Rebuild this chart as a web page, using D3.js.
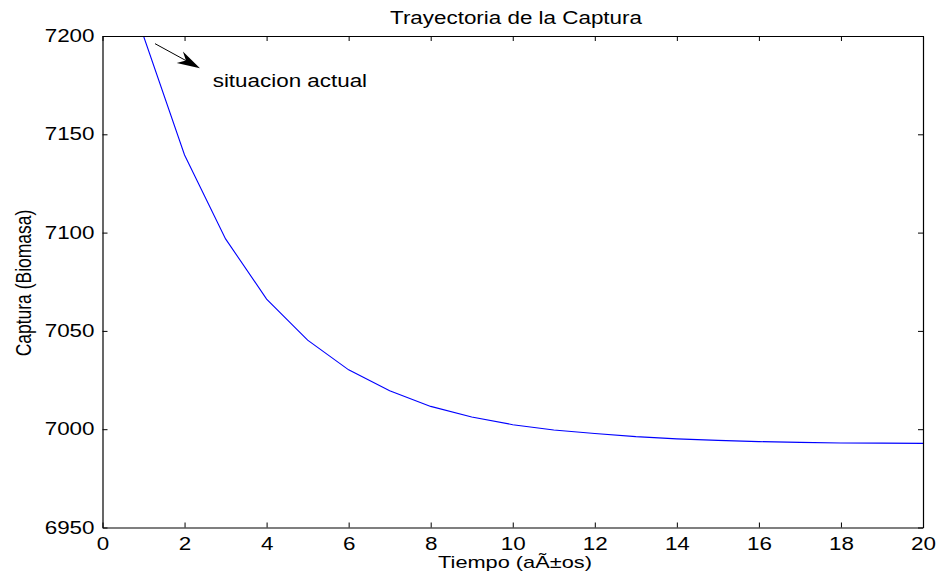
<!DOCTYPE html>
<html>
<head>
<meta charset="utf-8">
<script src="https://d3js.org/d3.v7.min.js"></script>
<style>
body { margin: 0; background: #fff; }
svg { display: block; }
text { font-family: "Liberation Sans", Arial, Helvetica, sans-serif; fill: #000; }
</style>
</head>
<body>
<script>
// chart data
var years = [1, 2, 3, 4, 5, 6, 7, 8, 9, 10, 11, 12, 13, 14, 15, 16, 17, 18, 19, 20];
var catch_ = [7200, 7139.5, 7096.8, 7066.2, 7045.3, 7030.2, 7019.5, 7011.6, 7006.2, 7002.3,
              6999.6, 6997.8, 6996.2, 6995.1, 6994.3, 6993.7, 6993.3, 6993.0, 6992.9, 6992.8];
var xTicks = [0, 2, 4, 6, 8, 10, 12, 14, 16, 18, 20];
var yTicks = [6950, 7000, 7050, 7100, 7150, 7200];

var titleText = "Trayectoria de la Captura";
var xLabel = "Tiempo (aÃ±os)";
var yLabel = "Captura (Biomasa)";
var noteText = "situacion actual";
// arrow annotation, in data units: [tail, tip], then text anchor
var arrowPts = [[1.28, 7196.1], [2.376, 7183.6]];
var notePos = [2.686, 7174.2];

var W = 938, H = 577;
var box = {left: 102.5, right: 923, top: 36, bottom: 527.5};
var FS = 17.5, STRETCH = 1.28;

var svg = d3.select("body").append("svg").attr("width", W).attr("height", H);

var x = d3.scaleLinear().domain([0, 20]).range([box.left, box.right]);
var y = d3.scaleLinear().domain([6950, 7200]).range([box.bottom, box.top]);

// fonts in the original are wider than tall, so squash them sideways
function stretch(sel){
	sel.each(function(){
		var w = this.getComputedTextLength();
		d3.select(this).attr("textLength", w*STRETCH).attr("lengthAdjust", "spacingAndGlyphs");
	});
}

svg.append("clipPath").attr("id", "plotclip")
	.append("rect")
	.attr("x", box.left).attr("y", box.top)
	.attr("width", box.right - box.left).attr("height", box.bottom - box.top);

// data line
var line = d3.line()
	.x(function(d, i){ return x(years[i]); })
	.y(function(d){ return y(d); });

svg.append("path")
	.datum(catch_)
	.attr("clip-path", "url(#plotclip)")
	.attr("fill", "none")
	.attr("stroke", "#0000ff")
	.attr("stroke-width", 1.1)
	.attr("d", line);

// axes (ticks point inwards, MATLAB style)
function styleAxis(g){
	g.selectAll("path.domain").attr("stroke", "#000").attr("stroke-width", 1.2);
	g.selectAll(".tick line").attr("stroke", "#000").attr("stroke-width", 1);
	g.selectAll("text").attr("font-size", FS).attr("font-family", null).attr("fill", "#000");
}

var gx = svg.append("g")
	.attr("transform", "translate(0," + box.bottom + ")")
	.call(d3.axisBottom(x).tickValues(xTicks).tickSizeInner(-5).tickSizeOuter(0).tickPadding(10));
styleAxis(gx);

var gy = svg.append("g")
	.attr("transform", "translate(" + box.left + ",0)")
	.call(d3.axisLeft(y).tickValues(yTicks).tickSizeInner(-5).tickSizeOuter(0).tickPadding(8).tickFormat(d3.format("d")));
styleAxis(gy);

var gt = svg.append("g")
	.attr("transform", "translate(0," + box.top + ")")
	.call(d3.axisTop(x).tickValues(xTicks).tickSizeInner(-5).tickSizeOuter(0).tickFormat(""));
styleAxis(gt);

var gr = svg.append("g")
	.attr("transform", "translate(" + box.right + ",0)")
	.call(d3.axisRight(y).tickValues(yTicks).tickSizeInner(-5).tickSizeOuter(0).tickFormat(""));
styleAxis(gr);

gx.selectAll("text").call(stretch);
gy.selectAll("text").call(stretch);

// title and labels
svg.append("text")
	.attr("x", 516).attr("y", 24)
	.attr("text-anchor", "middle")
	.attr("font-size", FS)
	.text(titleText)
	.call(stretch);

svg.append("text")
	.attr("x", 515).attr("y", 567.5)
	.attr("text-anchor", "middle")
	.attr("font-size", 17)
	.text(xLabel)
	.call(stretch);

svg.append("text")
	.attr("transform", "translate(30.5,283) scale(" + STRETCH + ",1) rotate(-90)")
	.attr("text-anchor", "middle")
	.attr("font-size", FS)
	.text(yLabel);

// annotation arrow
var tail = [x(arrowPts[0][0]), y(arrowPts[0][1])];
var tip = [x(arrowPts[1][0]), y(arrowPts[1][1])];
var ang = Math.atan2(tip[1] - tail[1], tip[0] - tail[0]);
var headLen = 23, headW = 6.5, notch = 16;
function rot(l, off){
	return [tip[0] - l*Math.cos(ang) + off*Math.sin(ang), tip[1] - l*Math.sin(ang) - off*Math.cos(ang)];
}
var neck = rot(notch, 0);
svg.append("line")
	.attr("x1", tail[0]).attr("y1", tail[1])
	.attr("x2", neck[0]).attr("y2", neck[1])
	.attr("stroke", "#000").attr("stroke-width", 1);
svg.append("polygon")
	.attr("points", [tip, rot(headLen, headW), neck, rot(headLen, -headW)].map(function(p){ return p.join(","); }).join(" "))
	.attr("fill", "#000");

svg.append("text")
	.attr("x", x(notePos[0])).attr("y", y(notePos[1]))
	.attr("font-size", FS)
	.text(noteText)
	.call(stretch);
</script>
</body>
</html>
